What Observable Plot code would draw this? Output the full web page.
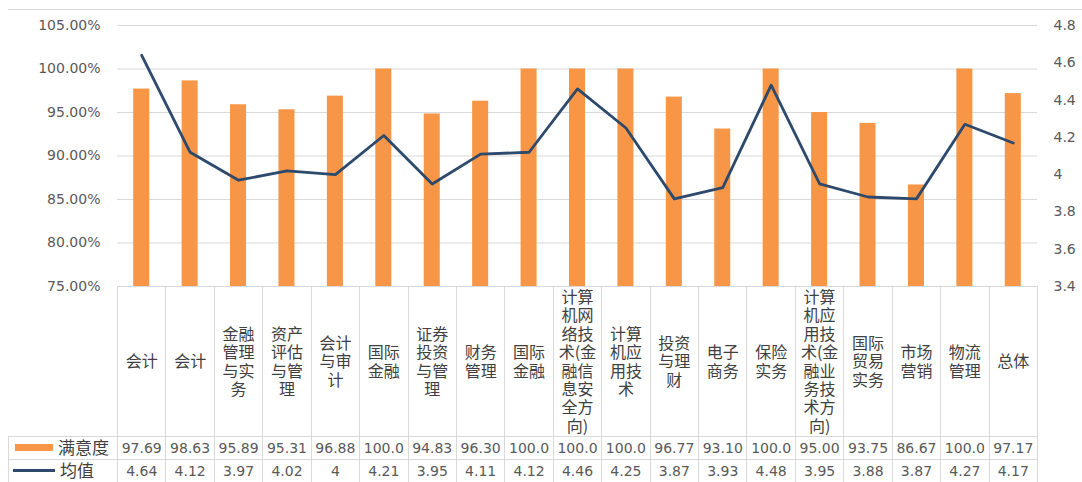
<!DOCTYPE html>
<html>
<head>
<meta charset="utf-8">
<script src="https://cdn.jsdelivr.net/npm/d3@7"></script>
<script src="https://cdn.jsdelivr.net/npm/@observablehq/plot@0.6"></script>
<style>
  html, body { margin: 0; padding: 0; background: #fff; }
</style>
</head>
<body>
<div id="chart"></div>
<script>
const categories = ["会计","会计","金融管理与实务","资产评估与管理","会计与审计","国际金融","证券投资与管理","财务管理","国际金融","计算机网络技术(金融信息安全方向)","计算机应用技术","投资与理财","电子商务","保险实务","计算机应用技术(金融业务技术方向)","国际贸易实务","市场营销","物流管理","总体"];
const categoryLabels = ["会计","会计","金融\n管理\n与实\n务","资产\n评估\n与管\n理","会计\n与审\n计","国际\n金融","证券\n投资\n与管\n理","财务\n管理","国际\n金融","计算\n机网\n络技\n术(金\n融信\n息安\n全方\n向)","计算\n机应\n用技\n术","投资\n与理\n财","电子\n商务","保险\n实务","计算\n机应\n用技\n术(金\n融业\n务技\n术方\n向)","国际\n贸易\n实务","市场\n营销","物流\n管理","总体"];
const satisfaction = [97.69,98.63,95.89,95.31,96.88,100,94.83,96.30,100,100,100,96.77,93.10,100,95.00,93.75,86.67,100,97.17];
const meanValues = [4.64,4.12,3.97,4.02,4,4.21,3.95,4.11,4.12,4.46,4.25,3.87,3.93,4.48,3.95,3.88,3.87,4.27,4.17];
const leftTicks = [75,80,85,90,95,100,105];
const rightTicks = [3.4,3.6,3.8,4.0,4.2,4.4,4.6,4.8];
const seriesNames = ["满意度","均值"];

const LEFT = [75,105], RIGHT = [3.4,4.8];
const toLeft = v => LEFT[0] + (v - RIGHT[0]) / (RIGHT[1] - RIGHT[0]) * (LEFT[1] - LEFT[0]);
const fromLeft = v => Math.round((RIGHT[0] + (v - LEFT[0]) / (LEFT[1] - LEFT[0]) * (RIGHT[1] - RIGHT[0])) * 10) / 10;

const data = categories.map((c, i) => ({i, c, label: categoryLabels[i], s: satisfaction[i], m: meanValues[i]}));

const BAR = "#F79646", LINE = "#2D4A6D", GRID = "#d9d9d9";

function tableGrid(index, scales, values, dims) {
  const x = scales.x;
  const step = x(1) - x(0);
  const x0 = x(0), x1 = x(categories.length - 1) + step;
  const top = dims.height - dims.marginBottom;
  const bottom = dims.height;
  const rowA = top + 150, rowB = rowA + 23;
  const left = 8;
  const g = d3.create("svg:g");
  const lines = g.append("g").attr("stroke", GRID).attr("stroke-width", 1).attr("fill", "none");
  lines.append("line").attr("x1", left).attr("x2", dims.width).attr("y1", 9.5).attr("y2", 9.5);
  lines.append("line").attr("x1", x0).attr("x2", x1).attr("y1", top + 0.5).attr("y2", top + 0.5);
  for (const y of [rowA, rowB]) {
    lines.append("line").attr("x1", left).attr("x2", x1).attr("y1", y + 0.5).attr("y2", y + 0.5);
  }
  lines.append("line").attr("x1", left + 0.5).attr("x2", left + 0.5).attr("y1", rowA).attr("y2", bottom);
  for (let i = 0; i <= categories.length; i++) {
    const xi = Math.round(i < categories.length ? x(i) : x1) + 0.5;
    lines.append("line").attr("x1", xi).attr("x2", xi).attr("y1", top).attr("y2", bottom);
  }
  // legend keys
  g.append("rect").attr("x", 15).attr("y", rowA + 8).attr("width", 38).attr("height", 7).attr("fill", BAR);
  g.append("line").attr("x1", 13).attr("x2", 55).attr("y1", rowB + 11.5).attr("y2", rowB + 11.5)
    .attr("stroke", LINE).attr("stroke-width", 3);
  const t = g.append("g").attr("fill", "#404040").attr("font-size", 17).attr("text-anchor", "start")
    .attr("font-family", "'Noto Sans CJK SC', sans-serif");
  t.append("text").attr("x", 58).attr("y", rowA + 12).attr("dy", "0.36em").text(seriesNames[0]);
  t.append("text").attr("x", 60).attr("y", rowB + 12).attr("dy", "0.36em").text(seriesNames[1]);
  return g.node();
}

const chart = Plot.plot({
  width: 1082,
  height: 482,
  marginTop: 25,
  marginBottom: 196,
  marginLeft: 117,
  marginRight: 45,
  style: {fontFamily: "'DejaVu Sans','Noto Sans CJK SC',sans-serif", background: "#fff", overflow: "visible"},
  x: {domain: d3.range(categories.length), padding: 0, round: false, axis: null},
  y: {domain: LEFT, axis: null},
  marks: [
    Plot.gridY(leftTicks.slice(1), {stroke: GRID, strokeOpacity: 1}),
    Plot.barY(data, {x: "i", y1: LEFT[0], y2: "s", fill: BAR, insetLeft: 16.2, insetRight: 16.2}),
    Plot.line(data, {x: "i", y: d => toLeft(d.m), stroke: LINE, strokeWidth: 2.8}),
    Plot.axisY(leftTicks, {anchor: "left", tickSize: 0, tickPadding: 17, label: null,
      tickFormat: d => d.toFixed(2) + "%", fontSize: 14, color: "#595959"}),
    Plot.axisY(rightTicks.map(toLeft), {anchor: "right", tickSize: 0, tickPadding: 16, label: null,
      tickFormat: d => String(fromLeft(d)), fontSize: 14, color: "#595959"}),
    Plot.text(data, {x: "i", text: "label", frameAnchor: "bottom", lineAnchor: "middle", dy: 75, lineHeight: 1.15,
      fontSize: 16, fill: "#404040", fontFamily: "'Noto Sans CJK SC', sans-serif"}),
    Plot.text(data, {x: "i", text: d => d.s === 100 ? "100.0" : d.s.toFixed(2), frameAnchor: "bottom",
      lineAnchor: "middle", dy: 162, fontSize: 14, fill: "#595959"}),
    Plot.text(data, {x: "i", text: d => String(d.m), frameAnchor: "bottom",
      lineAnchor: "middle", dy: 185, fontSize: 14, fill: "#595959"}),
    tableGrid
  ]
});
document.getElementById("chart").appendChild(chart);
</script>
</body>
</html>
